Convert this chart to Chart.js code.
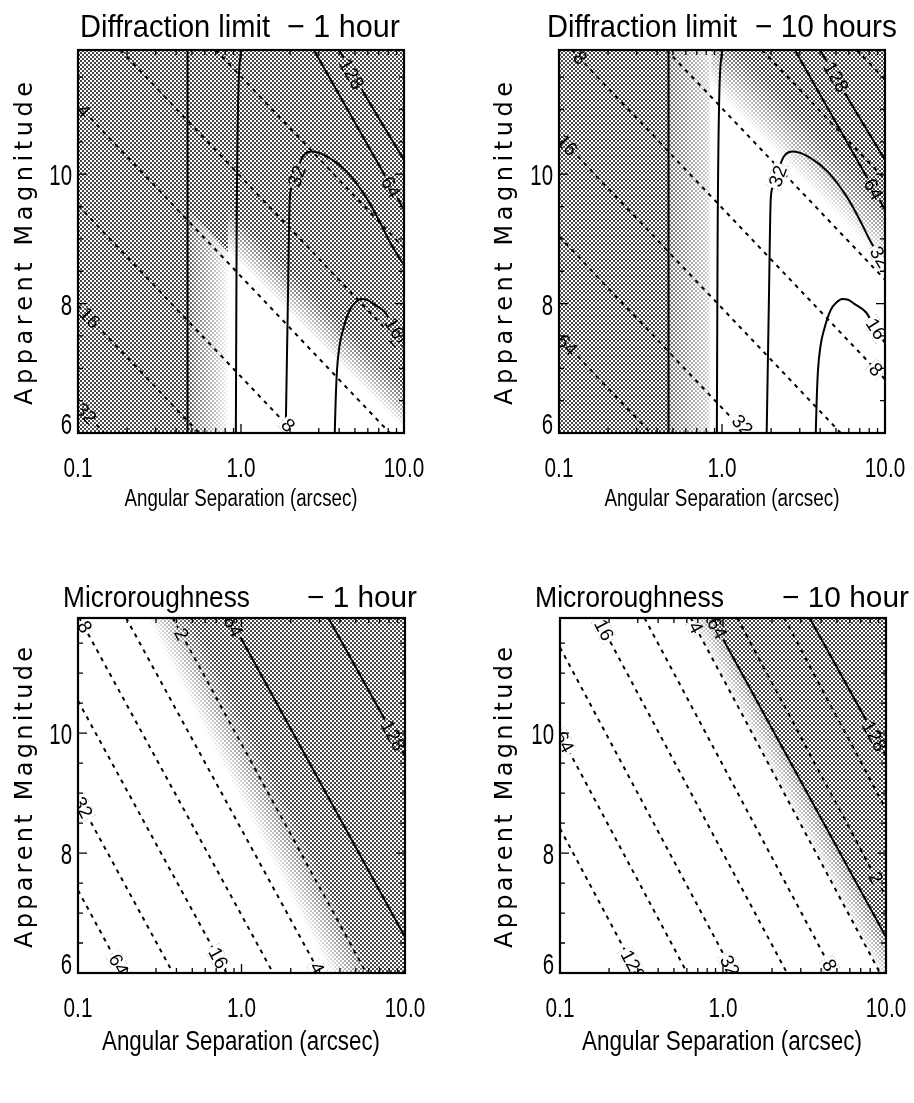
<!DOCTYPE html>
<html lang="en">
<head>
<meta charset="utf-8">
<title>Contrast contours – diffraction limit and microroughness</title>
<script src="https://cdn.jsdelivr.net/npm/chart.js@4.4.1/dist/chart.umd.min.js"></script>
<style>
  html, body { margin: 0; padding: 0; background: #fff; }
  body { position: relative; width: 914px; height: 1103px; overflow: hidden; }
  canvas { position: absolute; }
</style>
</head>
<body>
<canvas id="p1" width="457" height="540" style="left:0;top:0"></canvas>
<canvas id="p2" width="457" height="540" style="left:457px;top:0"></canvas>
<canvas id="p3" width="457" height="563" style="left:0;top:540px"></canvas>
<canvas id="p4" width="457" height="563" style="left:457px;top:540px"></canvas>
<script>
// ---------- axes ----------
const xLimits = [0.1, 10];
const yLimits = [6, 11.92];
const xMajorTicks = [0.1, 1, 10];
const xTickLabels = ['0.1', '1.0', '10.0'];
const xMinorTicks = [0.2, 0.3, 0.4, 0.5, 0.6, 0.7, 0.8, 0.9, 2, 3, 4, 5, 6, 7, 8, 9];
const yMajorTicks = [6, 8, 10];
const yTickLabels = ['6', '8', '10'];
const yMinorTicks = [6.5, 7, 7.5, 8.5, 9, 9.5, 10.5, 11, 11.5];

// ---------- diffraction limit: solid contours (separation, magnitude) ----------
const diffSolid128v = [[0.47, 6], [0.47, 11.92]];
const diffSolid64v  = [[0.93, 6], [0.94, 9.0], [0.96, 11.1], [1.0, 11.92]];
const diffSolid32   = [[1.88, 6], [1.94, 8.06], [1.99, 9.61], [2.05, 9.8], [2.39, 10.27], [2.75, 10.35],
                       [3.5, 10.25], [4.45, 10.04], [5.9, 9.63], [7.08, 9.27], [8.16, 8.96], [9.95, 8.6]];
const diffSolid16   = [[3.76, 6], [3.81, 6.51], [3.88, 6.97], [4.03, 7.36], [4.22, 7.59], [4.64, 7.9],
                       [5.05, 8.02], [5.47, 8.07], [5.94, 8.06], [6.45, 8.0], [7.61, 7.87], [8.75, 7.62], [10, 7.39]];
const diffSolid64   = [[2.8, 11.92], [7.79, 9.94], [10, 9.45]];
const diffSolid128  = [[4.0, 11.92], [5.6, 11.28], [10, 10.22]];
const diffSolid = [diffSolid128v, diffSolid64v, diffSolid32, diffSolid16, diffSolid64, diffSolid128];

// dashed contours, levels 1, 2, 4, 8, 16, 32
const diff1hDashed = [
  [[0.70, 11.92], [10, 8.86]],
  [[0.182, 11.92], [10, 7.31]],
  [[0.1, 11.07], [8.19, 6]],
  [[0.1, 9.52], [2.13, 6]],
  [[0.1, 7.97], [0.553, 6]],
  [[0.1, 6.43], [0.145, 6]]
];
// dashed contours, levels 1, 2, 4, 8, 16, 32, 64
const diff10hDashed = [
  [[6.70, 11.92], [10, 11.46]],
  [[1.76, 11.92], [10, 9.92]],
  [[0.457, 11.92], [10, 8.37]],
  [[0.12, 11.92], [10, 6.83]],
  [[0.1, 10.58], [5.35, 6]],
  [[0.1, 9.04], [1.40, 6]],
  [[0.1, 7.49], [0.365, 6]]
];

// contour labels: text, separation, magnitude
const diff1hLabels = [
  ['4', 0.108, 10.98], ['16', 0.118, 7.78], ['32', 0.112, 6.3], ['8', 1.95, 6.12], ['2', 9.0, 7.43],
  ['128', 4.77, 11.55], ['64', 8.3, 9.8], ['32', 2.2, 9.97], ['16', 8.75, 7.62]
];
const diff10hLabels = [
  ['8', 0.135, 11.8], ['16', 0.112, 10.45], ['64', 0.112, 7.36], ['32', 1.33, 6.12], ['8', 8.8, 6.98],
  ['128', 5.0, 11.5], ['64', 8.5, 9.77], ['32', 2.2, 9.97], ['32', 9.3, 8.72], ['16', 8.8, 7.61]
];

// ---------- microroughness ----------
const microSolid64  = [[0.85, 11.92], [10, 6.6]];
const microSolid128 = [[3.4, 11.92], [10, 9.62]];
const microSolid = [microSolid64, microSolid128];

// dashed contours, levels 64, 32, 16, 8, 4, 2
const micro1hDashed = [
  [[0.1, 7.38], [0.188, 6]],
  [[0.1, 8.91], [0.381, 6]],
  [[0.1, 10.54], [0.809, 6]],
  [[0.102, 11.92], [1.56, 6]],
  [[0.197, 11.92], [3.01, 6]],
  [[0.38, 11.92], [5.8, 6]]
];
// dashed contours, levels 128, 64, 32, 16, 8, 4, 2, 1
const micro10hDashed = [
  [[0.1, 8.41], [0.297, 6]],
  [[0.1, 9.98], [0.603, 6]],
  [[0.1, 11.43], [1.16, 6]],
  [[0.170, 11.92], [2.47, 6]],
  [[0.33, 11.92], [4.76, 6]],
  [[0.634, 11.92], [9.19, 6]],
  [[1.225, 11.92], [10, 7.27]],
  [[2.37, 11.92], [10, 8.73]]
];
const micro1hLabels = [
  ['8', 0.11, 11.77], ['32', 0.107, 8.76], ['64', 0.177, 6.14], ['16', 0.72, 6.25], ['4', 2.9, 6.08],
  ['2', 0.43, 11.65], ['64', 0.89, 11.78], ['128', 8.45, 9.96]
];
const micro10hLabels = [
  ['16', 0.186, 11.72], ['64', 0.106, 9.85], ['128', 0.28, 6.13], ['32', 1.1, 6.12], ['8', 4.5, 6.13],
  ['4', 0.68, 11.76], ['64', 0.92, 11.75], ['128', 8.5, 9.95], ['2', 8.66, 7.59]
];

// ---------- shading boundaries (stipple lightened toward white) ----------
const diff1hRight     = [[0.83, 6], [0.83, 11.92], [10, 11.92], [10, 6]];
const diff1hFadeFrom  = [[0.83, 8.8], [10, 6.05]];
const diff1hFadeTo    = [[0.83, 9.5], [10, 6.75]];
const diff1hGapBand   = [[0.47, 6], [0.47, 9.45], [0.86, 8.76], [0.86, 6]];
const diff1hGapFrom   = [[0.47, 6], [0.47, 11.92]];
const diff1hGapTo     = [[0.83, 6], [0.83, 11.92]];

const diff10hRight    = [[0.84, 6], [0.84, 11.92], [10, 11.92], [10, 6]];
const diff10hFadeFrom = [[0.97, 11.22], [10, 8.6]];
const diff10hFadeTo   = [[0.97, 12.22], [10, 9.6]];
const diff10hGapBand  = [[0.47, 6], [0.47, 11.92], [0.86, 11.92], [0.86, 6]];
const diff10hGapFrom  = [[0.47, 6], [0.47, 11.92]];
const diff10hGapTo    = [[0.84, 6], [0.84, 11.92]];

const micro1hClear    = [[0.1, 6], [0.1, 11.92], [0.505, 11.92], [6.08, 6]];
const micro1hFadeFrom = [[0.262, 11.92], [3.46, 6]];
const micro1hFadeTo   = [[0.505, 11.92], [6.08, 6]];

const micro10hClear    = [[0.1, 6], [0.1, 11.92], [0.85, 11.92], [10, 6.6], [10, 6]];
const micro10hFadeFrom = [[0.634, 11.92], [9.19, 6]];
const micro10hFadeTo   = [[0.85, 11.92], [10, 6.6]];

// ---------- panel layout ----------
const SANS = '"Liberation Sans", Arial, sans-serif';
const panels = [
  { id: 'p1', w: 457, h: 540, area: { left: 78, top: 50, right: 404, bottom: 433 },
    title: [['Diffraction limit', 80, 270], ['\u2212 1 hour', 287, 400]], titleBase: 37, titleSize: 32,
    xTitle: { cx: 241, base: 506, width: 233, size: 23 }, yTitle: { baseX: 32, cy: 243.5, len: 323 },
    solid: diffSolid, dashed: diff1hDashed, labels: diff1hLabels,
    zones: [
      { poly: diff1hRight, from: diff1hFadeFrom, to: diff1hFadeTo, stops: [[0, 1], [1, 0]] },
      { poly: diff1hGapBand, from: diff1hGapFrom, to: diff1hGapTo, stops: [[0, 0.1], [1, 0.95]] }
    ] },
  { id: 'p2', w: 457, h: 540, area: { left: 102, top: 50, right: 428, bottom: 433 },
    title: [['Diffraction limit', 90, 280], ['\u2212 10 hours', 298, 440]], titleBase: 37, titleSize: 32,
    xTitle: { cx: 265, base: 506, width: 235, size: 23 }, yTitle: { baseX: 55, cy: 243.5, len: 323 },
    solid: diffSolid, dashed: diff10hDashed, labels: diff10hLabels,
    zones: [
      { poly: diff10hRight, from: diff10hFadeFrom, to: diff10hFadeTo, stops: [[0, 1], [1, 0]] },
      { poly: diff10hGapBand, from: diff10hGapFrom, to: diff10hGapTo, stops: [[0, 0.2], [1, 0.75]] }
    ] },
  { id: 'p3', w: 457, h: 563, area: { left: 78, top: 78, right: 405, bottom: 433 },
    title: [['Microroughness', 63, 250], ['\u2212 1 hour', 307, 417]], titleBase: 67, titleSize: 30,
    xTitle: { cx: 241, base: 510, width: 278, size: 27 }, yTitle: { baseX: 32, cy: 257.5, len: 301 },
    solid: microSolid, dashed: micro1hDashed, labels: micro1hLabels,
    zones: [
      { poly: micro1hClear, from: micro1hFadeFrom, to: micro1hFadeTo, stops: [[0, 1], [1, 0]] }
    ] },
  { id: 'p4', w: 457, h: 563, area: { left: 103, top: 78, right: 429, bottom: 433 },
    title: [['Microroughness', 78, 267], ['\u2212 10 hour', 325, 452]], titleBase: 67, titleSize: 30,
    xTitle: { cx: 265, base: 510, width: 280, size: 27 }, yTitle: { baseX: 55, cy: 257.5, len: 301 },
    solid: microSolid, dashed: micro10hDashed, labels: micro10hLabels,
    zones: [
      { poly: micro10hClear, from: micro10hFadeFrom, to: micro10hFadeTo, stops: [[0, 1], [0.03, 0.88], [1, 0.35]] }
    ] }
];

// ---------- drawing helpers ----------
const patterns = new WeakMap();
function stipple(ctx) {
  if (!patterns.has(ctx)) {
    const c = document.createElement('canvas');
    c.width = 4; c.height = 4;
    const g = c.getContext('2d');
    g.fillStyle = '#474747';
    g.fillRect(0, 0, 2, 2);
    g.fillRect(2, 2, 2, 2);
    patterns.set(ctx, ctx.createPattern(c, 'repeat'));
  }
  return patterns.get(ctx);
}

function drawShade(chart, p) {
  const { ctx, chartArea: a, scales: { x, y } } = chart;
  const X = v => x.getPixelForValue(v), Y = v => y.getPixelForValue(v);
  const w = a.right - a.left, h = a.bottom - a.top;
  ctx.save();
  ctx.beginPath(); ctx.rect(a.left, a.top, w, h); ctx.clip();
  ctx.fillStyle = '#fff'; ctx.fillRect(a.left, a.top, w, h);
  ctx.fillStyle = stipple(ctx); ctx.fillRect(a.left, a.top, w, h);
  for (const z of p.zones) {
    ctx.beginPath();
    z.poly.forEach(([vx, vy], i) => i ? ctx.lineTo(X(vx), Y(vy)) : ctx.moveTo(X(vx), Y(vy)));
    ctx.closePath();
    const A = [X(z.from[0][0]), Y(z.from[0][1])], A2 = [X(z.from[1][0]), Y(z.from[1][1])];
    const B = [X(z.to[0][0]), Y(z.to[0][1])];
    let dx = A2[0] - A[0], dy = A2[1] - A[1];
    const L = Math.hypot(dx, dy); dx /= L; dy /= L;
    const nx = -dy, ny = dx;
    const d = (B[0] - A[0]) * nx + (B[1] - A[1]) * ny;
    const g = ctx.createLinearGradient(A[0], A[1], A[0] + nx * d, A[1] + ny * d);
    z.stops.forEach(([pos, al]) => g.addColorStop(pos, `rgba(255,255,255,${al})`));
    ctx.fillStyle = g;
    ctx.fill();
  }
  ctx.restore();
}

function angleAt(chart, lines, px, py) {
  const { x, y } = chart.scales;
  let best = Infinity, ang = 0;
  lines.forEach(line => {
    for (let i = 0; i < line.length - 1; i++) {
      const ax = x.getPixelForValue(line[i][0]), ay = y.getPixelForValue(line[i][1]);
      const bx = x.getPixelForValue(line[i + 1][0]), by = y.getPixelForValue(line[i + 1][1]);
      const dx = bx - ax, dy = by - ay, L2 = dx * dx + dy * dy || 1;
      let t = ((px - ax) * dx + (py - ay) * dy) / L2;
      t = Math.max(0, Math.min(1, t));
      const dist = Math.hypot(ax + t * dx - px, ay + t * dy - py);
      if (dist < best) { best = dist; ang = Math.atan2(dy, dx); }
    }
  });
  if (ang >= Math.PI / 2) ang -= Math.PI;
  if (ang < -Math.PI / 2) ang += Math.PI;
  return ang;
}

function drawLabels(chart, p) {
  const { ctx, chartArea: a, scales: { x, y } } = chart;
  const lines = p.solid.concat(p.dashed);
  ctx.font = '19px ' + SANS;
  p.labels.forEach(([txt, vx, vy]) => {
    const px = x.getPixelForValue(vx), py = y.getPixelForValue(vy);
    const ang = angleAt(chart, lines, px, py);
    const w = ctx.measureText(txt).width;
    // open a gap in the contour under the label
    ctx.save();
    ctx.translate(px, py); ctx.rotate(ang);
    ctx.beginPath(); ctx.rect(-w / 2 - 2, -8, w + 4, 16);
    ctx.restore();
    ctx.save();
    ctx.clip();
    drawShade(chart, p);
    ctx.restore();
    // the label itself
    ctx.save();
    ctx.beginPath(); ctx.rect(a.left, a.top, a.right - a.left, a.bottom - a.top); ctx.clip();
    ctx.translate(px, py); ctx.rotate(ang);
    ctx.fillStyle = '#000';
    ctx.font = '19px ' + SANS;
    ctx.textAlign = 'center'; ctx.textBaseline = 'middle';
    ctx.fillText(txt, 0, 1);
    ctx.restore();
  });
}

function seg(ctx, x0, y0, x1, y1) { ctx.moveTo(x0, y0); ctx.lineTo(x1, y1); }

function squeezed(ctx, txt, x0, base, size, sx, align) {
  ctx.save();
  ctx.font = size + 'px ' + SANS;
  ctx.translate(x0, base); ctx.scale(sx, 1);
  ctx.textAlign = align; ctx.textBaseline = 'alphabetic';
  ctx.fillText(txt, 0, 0);
  ctx.restore();
}

function fitted(ctx, txt, x0, x1, base, size) {
  ctx.save();
  ctx.font = size + 'px ' + SANS;
  const w = ctx.measureText(txt).width;
  ctx.translate(x0, base); ctx.scale((x1 - x0) / w, 1);
  ctx.textAlign = 'left'; ctx.textBaseline = 'alphabetic';
  ctx.fillText(txt, 0, 0);
  ctx.restore();
}

function spacedVertical(ctx, txt, baseX, cy, len, size) {
  ctx.save();
  ctx.font = size + 'px "DejaVu Sans", Verdana, sans-serif';
  ctx.translate(baseX, cy); ctx.rotate(-Math.PI / 2);
  ctx.textAlign = 'left'; ctx.textBaseline = 'alphabetic';
  const chars = [...txt];
  const ws = chars.map(c => ctx.measureText(c).width);
  const gap = (len - ws.reduce((s, v) => s + v, 0)) / (chars.length - 1);
  let pos = -len / 2;
  chars.forEach((c, i) => { ctx.fillText(c, pos, 0); pos += ws[i] + gap; });
  ctx.restore();
}

function drawFrame(chart, p) {
  const { ctx, chartArea: a, scales: { x, y } } = chart;
  ctx.save();
  ctx.strokeStyle = '#000'; ctx.fillStyle = '#000';
  ctx.lineWidth = 1.3;
  ctx.beginPath();
  xMajorTicks.forEach(v => { const px = x.getPixelForValue(v); seg(ctx, px, a.bottom, px, a.bottom - 9); seg(ctx, px, a.top, px, a.top + 9); });
  xMinorTicks.forEach(v => { const px = x.getPixelForValue(v); seg(ctx, px, a.bottom, px, a.bottom - 5); seg(ctx, px, a.top, px, a.top + 5); });
  yMajorTicks.forEach(v => { const py = y.getPixelForValue(v); seg(ctx, a.left, py, a.left + 9, py); seg(ctx, a.right, py, a.right - 9, py); });
  yMinorTicks.forEach(v => { const py = y.getPixelForValue(v); seg(ctx, a.left, py, a.left + 5, py); seg(ctx, a.right, py, a.right - 5, py); });
  ctx.stroke();
  ctx.lineWidth = 2.2;
  ctx.strokeRect(a.left, a.top, a.right - a.left, a.bottom - a.top);

  // tick labels
  xMajorTicks.forEach((v, i) => squeezed(ctx, xTickLabels[i], x.getPixelForValue(v), a.bottom + 44, 28, 0.74, 'center'));
  yMajorTicks.forEach((v, i) => {
    const py = y.getPixelForValue(v);
    squeezed(ctx, yTickLabels[i], a.left - 6, Math.min(py + 11, a.bottom + 1), 30, 0.68, 'right');
  });

  // titles
  p.title.forEach(([t, x0, x1]) => fitted(ctx, t, x0, x1, p.titleBase, p.titleSize));
  const xt = p.xTitle;
  fitted(ctx, 'Angular Separation (arcsec)', xt.cx - xt.width / 2, xt.cx + xt.width / 2, xt.base, xt.size);
  spacedVertical(ctx, 'Apparent Magnitude', p.yTitle.baseX, p.yTitle.cy, p.yTitle.len, 24);
  ctx.restore();
}

// ---------- charts ----------
function build(p) {
  const datasets = [];
  p.solid.forEach(line => datasets.push({
    data: line.map(([x, y]) => ({ x, y })), showLine: true, fill: false,
    borderColor: '#000', borderWidth: 2, pointRadius: 0,
    cubicInterpolationMode: line.length > 2 ? 'monotone' : 'default'
  }));
  p.dashed.forEach(line => datasets.push({
    data: line.map(([x, y]) => ({ x, y })), showLine: true, fill: false,
    borderColor: '#000', borderWidth: 2, borderDash: [4, 5], pointRadius: 0
  }));

  new Chart(document.getElementById(p.id), {
    type: 'scatter',
    data: { datasets },
    options: {
      responsive: false, animation: false, devicePixelRatio: 1, events: [],
      layout: { padding: { left: 0, top: p.area.top, right: p.w - p.area.right, bottom: 0 } },
      plugins: { legend: { display: false }, tooltip: { enabled: false }, title: { display: false } },
      scales: {
        x: { type: 'logarithmic', min: xLimits[0], max: xLimits[1],
             grid: { display: false }, border: { display: false }, ticks: { display: false },
             afterFit: s => { s.height = p.h - p.area.bottom; } },
        y: { type: 'linear', min: yLimits[0], max: yLimits[1],
             grid: { display: false }, border: { display: false }, ticks: { display: false },
             afterFit: s => { s.width = p.area.left; } }
      }
    },
    plugins: [{
      id: 'contourDecor',
      beforeDatasetsDraw: chart => drawShade(chart, p),
      afterDatasetsDraw: chart => { drawLabels(chart, p); drawFrame(chart, p); }
    }]
  });
}

panels.forEach(build);
</script>
</body>
</html>
